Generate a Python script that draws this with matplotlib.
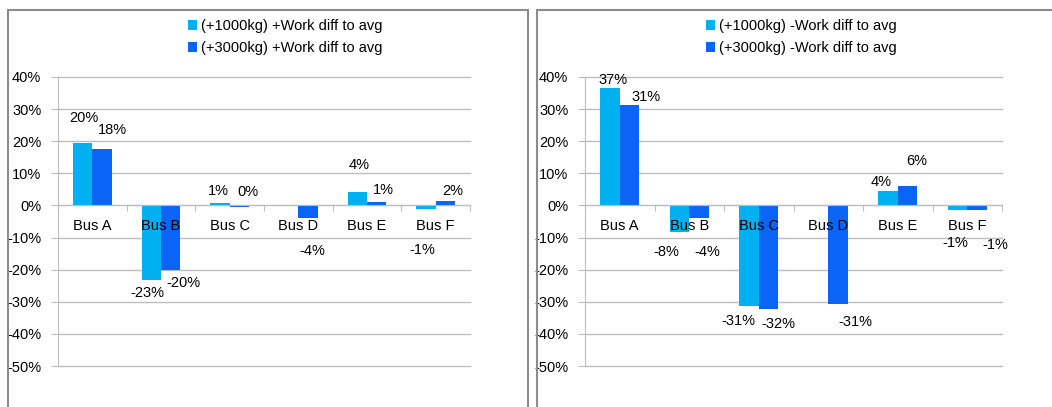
import numpy as np
import matplotlib
matplotlib.use("Agg")
import matplotlib.pyplot as plt
from matplotlib.patches import Rectangle

plt.rcParams['font.family'] = ['Liberation Sans', 'DejaVu Sans']

buses = ["Bus A", "Bus B", "Bus C", "Bus D", "Bus E", "Bus F"]
yticks = [40, 30, 20, 10, 0, -10, -20, -30, -40, -50]

# left chart: +Work diff to avg (%), None = no bar
plus_1000 = [19.6, -23.3, 0.8, None, 4.2, -1.2]
plus_3000 = [17.7, -20.2, -0.4, -4.0, 1.2, 1.5]
# right chart: -Work diff to avg (%)
minus_1000 = [36.7, -8.2, -31.3, None, 4.4, -1.4]
minus_3000 = [31.4, -3.8, -32.2, -30.6, 6.2, -1.4]

# label offsets in pixels (dx, dy) from bar end, as placed in the original
off_plus_1000 = [(1, 25), (-4, -13), (-2, 12), (0, 0), (2, 27), (-4, -41)]
off_plus_3000 = [(10, 19), (13, -13), (9, 15), (4, -33), (7, 12), (7, 10)]
off_minus_1000 = [(3, 8), (-13, -20), (-11, -15), (0, 0), (-7, 9), (-2, -33)]
off_minus_3000 = [(17, 8), (8, -34), (10, -15), (17, -18), (9, 25), (18, -35)]

light = '#00b0f0'
dark = '#0a64f5'
W, H = 1052, 407
FS = 10.5


def panel(fig, rect, s1, s2, o1, o2, names, legend_xy):
    ax = fig.add_axes(rect)
    x = np.arange(len(buses))
    w = 0.28
    for vals, offs, col, dx, name in [(s1, o1, light, -w / 2, names[0]),
                                      (s2, o2, dark, w / 2, names[1])]:
        h = [0 if v is None else v for v in vals]
        ax.bar(x + dx, h, w, color=col, label=name, zorder=3)
        for xi, v, (ox, oy) in zip(x, vals, offs):
            if v is None:
                continue
            ax.annotate(f"{int(round(v))}%", (xi + dx, v), xytext=(ox, oy),
                        textcoords='offset pixels', ha='center', va='center',
                        fontsize=FS, zorder=4)
    ax.set_xlim(-0.5, len(buses) - 0.5)
    ax.set_ylim(-50, 40)
    ax.set_yticks(yticks)
    ax.set_yticklabels([f"{t}%" for t in yticks], fontsize=FS)
    ax.yaxis.grid(True, color='#bdbdbd', lw=1)
    for gl in ax.yaxis.get_gridlines():
        gl.set_clip_on(False)
    ax.set_axisbelow(True)
    # category labels sit on top of the bars
    ax.xaxis.set_zorder(5)
    for s in ['top', 'right']:
        ax.spines[s].set_visible(False)
    ax.spines['left'].set_color('#bdbdbd')
    ax.spines['bottom'].set_color('#bdbdbd')
    ax.spines['bottom'].set_position(('data', 0))
    ax.spines['bottom'].set_zorder(5)
    ax.tick_params(axis='y', length=5, color='#bdbdbd', pad=7)
    ax.set_xticks(np.arange(len(buses) + 1) - 0.5)
    ax.set_xticklabels([])
    ax.set_xticks(x, minor=True)
    ax.set_xticklabels(buses, minor=True, fontsize=FS)
    ax.tick_params(axis='x', which='major', length=4, color='#bdbdbd',
                   direction='out')
    ax.tick_params(axis='x', which='minor', length=0, pad=10)
    ax.legend(loc='upper left', bbox_to_anchor=legend_xy,
              bbox_transform=fig.transFigure, frameon=False, fontsize=FS,
              handlelength=0.6, handleheight=0.7, handletextpad=0.3,
              labelspacing=0.55, borderpad=0, borderaxespad=0)
    return ax


fig = plt.figure(figsize=(W / 100, H / 100), dpi=100)

panel(fig, [58 / W, 1 - 366 / H, 412 / W, 289 / H], plus_1000, plus_3000,
      off_plus_1000, off_plus_3000,
      ["(+1000kg) +Work diff to avg", "(+3000kg) +Work diff to avg"],
      (188 / W, 1 - 19 / H))
panel(fig, [585 / W, 1 - 366 / H, 417 / W, 289 / H], minus_1000, minus_3000,
      off_minus_1000, off_minus_3000,
      ["(+1000kg) -Work diff to avg", "(+3000kg) -Work diff to avg"],
      (706 / W, 1 - 19 / H))

# chart frames
for x0, x1 in [(8, 528), (537, 1060)]:
    fig.patches.append(Rectangle((x0 / W, -0.1), (x1 - x0) / W, 1.1 - 10 / H,
                                 transform=fig.transFigure, fill=False,
                                 ec='#8c8c8c', lw=1.5, clip_on=False))

fig.savefig("out.png", dpi=100)
